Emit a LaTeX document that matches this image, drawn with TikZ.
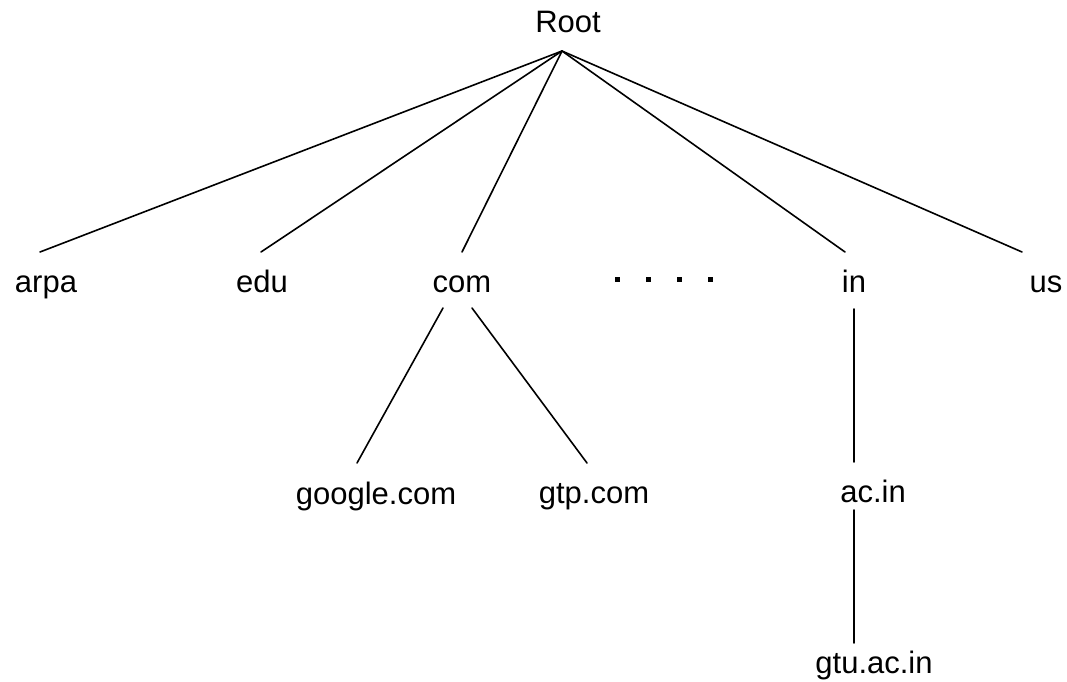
\documentclass[tikz,border=0pt]{standalone}
\usepackage{fontspec}
\setmainfont{Liberation Sans}
\begin{document}
\begin{tikzpicture}[x=1pt,y=-1pt,
  label/.style={anchor=base,inner sep=0pt,font=\fontsize{31}{37}\selectfont},
  edge/.style={line width=1.6pt,line cap=round}]
\useasboundingbox (0,0) rectangle (1067,681);

% domain names
\node[label] (root)   at (568,32)  {Root};
\node[label] (arpa)   at (46,292)  {arpa};
\node[label] (edu)    at (262,292) {edu};
\node[label] (com)    at (462,292) {com};
\node[label] (in)     at (854,292) {in};
\node[label] (us)     at (1046,292){us};
\node[label] (google) at (376,504) {google.com};
\node[label] (gtp)    at (594,503) {gtp.com};
\node[label] (acin)   at (873,502) {ac.in};
\node[label] (gtu)    at (874,673) {gtu.ac.in};

% connector end points
\coordinate (apex)      at (562,51);
\coordinate (arpa-top)  at (40,252);
\coordinate (edu-top)   at (261,252);
\coordinate (com-top)   at (462,252);
\coordinate (in-top)    at (845,252);
\coordinate (us-top)    at (1022,252);
\coordinate (com-l)     at (443,308);
\coordinate (com-r)     at (472,308);
\coordinate (google-top) at (357,463);
\coordinate (gtp-top)   at (587,463);
\coordinate (in-bot)    at (854,309);
\coordinate (acin-top)  at (854,462);
\coordinate (acin-bot)  at (854,510);
\coordinate (gtu-top)   at (854,643);

% top-level domains
\foreach \t in {arpa-top,edu-top,com-top,in-top,us-top}
  \draw[edge] (apex) -- (\t);

% second and third levels
\draw[edge] (com-l) -- (google-top);
\draw[edge] (com-r) -- (gtp-top);
\draw[edge] (in-bot) -- (acin-top);
\draw[edge] (acin-bot) -- (gtu-top);

% ellipsis between com and in
\foreach \x in {617,648,679,710}
  \fill (\x-2.5,276.5) rectangle (\x+2.5,281.5);
\end{tikzpicture}
\end{document}
